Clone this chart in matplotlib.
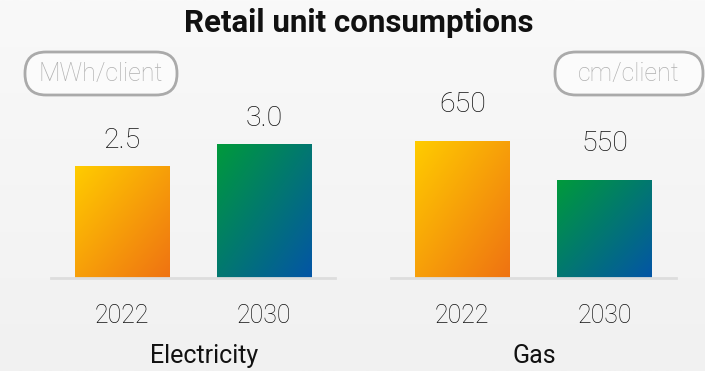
import matplotlib
matplotlib.use("Agg")
import matplotlib.pyplot as plt
import numpy as np
from matplotlib.colors import LinearSegmentedColormap
from matplotlib.patches import FancyBboxPatch

title = "Retail unit consumptions"
years = ["2022", "2030"]
electricity = [2.5, 3.0]
gas = [650, 550]
electricity_labels = ["2.5", "3.0"]
gas_labels = ["650", "550"]
panel_names = ["Electricity", "Gas"]
units = ["MWh/client", "cm/client"]

plt.rcParams["font.family"] = ["Roboto", "DejaVu Sans"]

warm = LinearSegmentedColormap.from_list("warm", ["#ffcc00", "#ef7212"])
cool = LinearSegmentedColormap.from_list("cool", ["#009a3b", "#0455a6"])

W, H = 705, 371
fig = plt.figure(figsize=(W / 100, H / 100), dpi=100)

# soft background
bg = fig.add_axes([0, 0, 1, 1], zorder=-10)
shade = np.linspace(0, 1, 256).reshape(-1, 1)
bg.imshow(shade, aspect="auto", extent=[0, 1, 0, 1],
          cmap=LinearSegmentedColormap.from_list("bg", ["#f9f9f9", "#f1f1f1"]))
bg.axis("off")


def px(x0, y0, w, h):
    # pixel box (top-left origin) -> figure fraction
    return [x0 / W, (H - y0 - h) / H, w / W, h / H]


def fill_gradient(ax, bars, cmap):
    u = np.linspace(0, 1, 200)
    uu, vv = np.meshgrid(u, u)
    t = (uu + vv) / 2
    lo = ax.get_ylim()[0]
    for b in bars:
        x0, w = b.get_x(), b.get_width()
        y1 = b.get_y() + b.get_height()
        y0 = max(b.get_y(), lo)
        im = ax.imshow(t, cmap=cmap, extent=[x0, x0 + w, y0, y1],
                       aspect="auto", origin="upper", zorder=2,
                       interpolation="bilinear")
        im.set_clip_path(b)
        b.set_facecolor("none")


def draw_panel(rect, values, labels, ylim, label_off):
    ax = fig.add_axes(rect)
    ax.set_facecolor("none")
    x = np.arange(len(values))
    bars = ax.bar(x, values, width=0.665, linewidth=0, zorder=2)
    ax.set_xlim(-0.5, 1.5)
    ax.set_ylim(*ylim)
    fill_gradient(ax, [bars[0]], warm)
    fill_gradient(ax, [bars[1]], cool)
    ax.set_xlim(-0.5, 1.5)
    ax.set_ylim(*ylim)
    for xi, v, lbl in zip(x, values, labels):
        ax.annotate(lbl, (xi, v), xytext=(0, label_off), textcoords="offset points",
                    ha="center", va="baseline", fontsize=20.5, fontweight="light",
                    color="#111111")
    ax.set_xticks(x, years)
    ax.tick_params(axis="x", length=0, pad=19, labelsize=18, labelcolor="#111111")
    for t in ax.get_xticklabels():
        t.set_fontweight("light")
    ax.set_yticks([])
    for s in ["top", "left", "right"]:
        ax.spines[s].set_visible(False)
    ax.spines["bottom"].set_color("#dddddd")
    ax.spines["bottom"].set_linewidth(2)
    return ax


draw_panel(px(51, 50, 284, 228), electricity, electricity_labels, (0, 5.1), 13)
draw_panel(px(391, 50, 285, 228), gas, gas_labels, (299, 884), 21)

fig.text(359 / W, 1 - 32 / H, title, ha="center", va="baseline",
         fontsize=22.5, fontweight="bold", color="#111111")

for name, cx in zip(panel_names, [204, 534]):
    fig.text(cx / W, 1 - 363 / H, name, ha="center", va="baseline",
             fontsize=18, color="#111111")

# unit pills
for unit, (bx0, bx1) in zip(units, [(25, 177), (555, 703)]):
    by0, by1 = 52, 95
    pill = FancyBboxPatch(((bx0) / 100, (H - by1) / 100), (bx1 - bx0) / 100,
                          (by1 - by0) / 100, boxstyle="round,pad=0,rounding_size=0.21",
                          transform=fig.dpi_scale_trans, facecolor="#fbfbfb",
                          edgecolor="#aaaaaa", linewidth=2, zorder=5)
    fig.add_artist(pill)
    fig.text((bx0 + bx1) / 2 / W, 1 - (by0 + by1) / 2 / H, unit, ha="center",
             va="center", fontsize=18, fontweight="light", color="#b0b0b0", zorder=6)

fig.savefig("out.png", dpi=100)
